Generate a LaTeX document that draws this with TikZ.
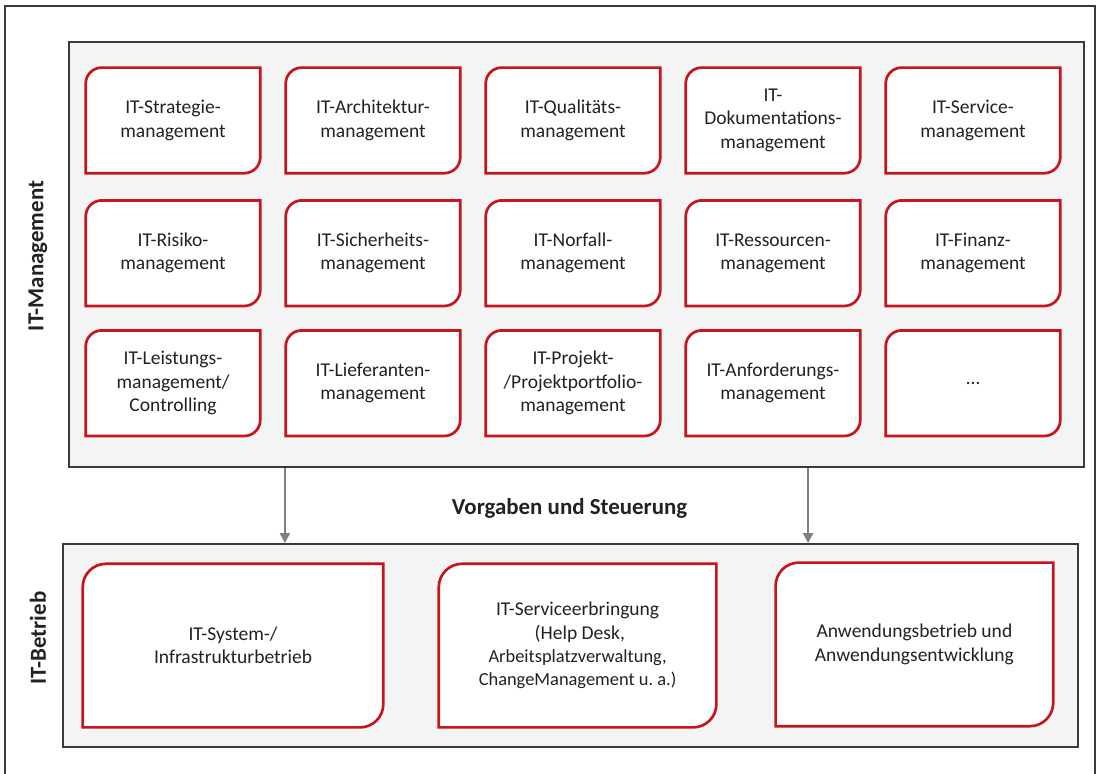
\documentclass[tikz,border=0pt]{standalone}
\usepackage{fontspec}
\setmainfont{Carlito}
\usepackage{tikz}
\usetikzlibrary{arrows.meta, backgrounds}
\definecolor{leafred}{HTML}{C4161C}
\definecolor{panelgray}{HTML}{F4F4F4}
\definecolor{framegray}{HTML}{3A3A3A}
\definecolor{arrowgray}{HTML}{808080}
\definecolor{textgray}{HTML}{222222}
\frenchspacing

% outline with round top-left and bottom-right corners
\newcommand{\leafshape}[2]{%
  \filldraw[leafline] ([yshift=-#2]#1.north west) arc[start angle=180, end angle=90, radius=#2]
    -- (#1.north east) -- ([yshift=#2]#1.south east) arc[start angle=0, end angle=-90, radius=#2]
    -- (#1.south west) -- cycle;}

\begin{document}
\begin{tikzpicture}[
  leaf/.style={minimum width=4.35cm, minimum height=2.625cm, inner sep=0pt, align=center, text=textgray, font=\fontsize{13.9}{16.6}\selectfont},
  bigleaf/.style={leaf, minimum width=6.925cm, minimum height=4.075cm},
  panel/.style={draw=framegray, fill=panelgray, line width=1.3pt, inner sep=0pt},
  leafline/.style={draw=leafred, fill=white, line width=1.9pt},
  side/.style={rotate=90, text=textgray, font=\fontsize{16.3}{19}\selectfont\bfseries},
  arr/.style={-{Triangle[length=7pt, width=7pt]}, draw=arrowgray, line width=1.4pt},
]
\useasboundingbox (0,0) rectangle (27.525,-19.35);
\draw[framegray, line width=0.9pt] (0.125,-19.35) -- (0.125,-0.15) -- (27.375,-0.15) -- (27.375,-19.35);

% IT-Management
\node[leaf] (strat) at (4.325,-3.01) {IT-Strategie-\\management};
\node[leaf] (arch) at (9.325,-3.01) {IT-Architektur-\\management};
\node[leaf] (qual) at (14.325,-3.01) {IT-Qualitäts-\\management};
\node[leaf] (doku) at (19.325,-3.01) {IT-\\Dokumentations-\\management};
\node[leaf] (serv) at (24.325,-3.01) {IT-Service-\\management};

\node[leaf] (risk) at (4.325,-6.33) {IT-Risiko-\\management};
\node[leaf] (sich) at (9.325,-6.33) {IT-Sicherheits-\\management};
\node[leaf] (notf) at (14.325,-6.33) {IT-Norfall-\\management};
\node[leaf] (ress) at (19.325,-6.33) {IT-Ressourcen-\\management};
\node[leaf] (fin) at (24.325,-6.33) {IT-Finanz-\\management};

\node[leaf] (leist) at (4.325,-9.58) {IT-Leistungs-\\management/\\Controlling};
\node[leaf] (lief) at (9.325,-9.58) {IT-Lieferanten-\\management};
\node[leaf] (proj) at (14.325,-9.58) {IT-Projekt-\\/Projektportfolio-\\management};
\node[leaf] (anf) at (19.325,-9.58) {IT-Anforderungs-\\management};
\node[leaf] (more) at (24.325,-9.58) {…};

\node[side] (mlabel) at (0.95,-6.4) {IT-Management};

% IT-Betrieb
\node[bigleaf, minimum width=7.5cm] (sysb) at (5.825,-16.14) {IT-System-/\\Infrastrukturbetrieb};
\node[bigleaf] (serb) at (14.44,-16.14) {IT-Serviceerbringung\\\ (Help Desk,\\{\fontsize{13.1}{16.6}\selectfont Arbeitsplatzverwaltung,}\\{\fontsize{13.1}{16.6}\selectfont ChangeManagement u. a.)}};
\node[bigleaf] (anwb) at (22.86,-16.11) {Anwendungsbetrieb und\\Anwendungsentwicklung};

\node[side] (blabel) at (0.95,-15.95) {IT-Betrieb};

\begin{scope}[on background layer]
  \node[panel, minimum width=25.375cm, minimum height=10.625cm] (mgmt) at (14.4125,-6.3625) {};
  \node[panel, minimum width=25.375cm, minimum height=5.075cm] (betrieb) at (14.2625,-16.1375) {};
  \foreach \n in {strat, arch, qual, doku, serv, risk, sich, notf, ress, fin, leist, lief, proj, anf, more}
    \leafshape{\n}{0.4cm};
  \foreach \n in {sysb, serb, anwb}
    \leafshape{\n}{0.58cm};
\end{scope}

% Arrows
\node[text=textgray, font=\fontsize{16.3}{19}\selectfont\bfseries] (steer) at (14.24,-12.72) {Vorgaben und Steuerung};
\draw[arr] ([xshift=-7.29cm]mgmt.south) -- ([xshift=-7.29cm]mgmt.south |- betrieb.north);
\draw[arr] ([xshift=5.79cm]mgmt.south) -- ([xshift=5.79cm]mgmt.south |- betrieb.north);

\end{tikzpicture}
\end{document}
